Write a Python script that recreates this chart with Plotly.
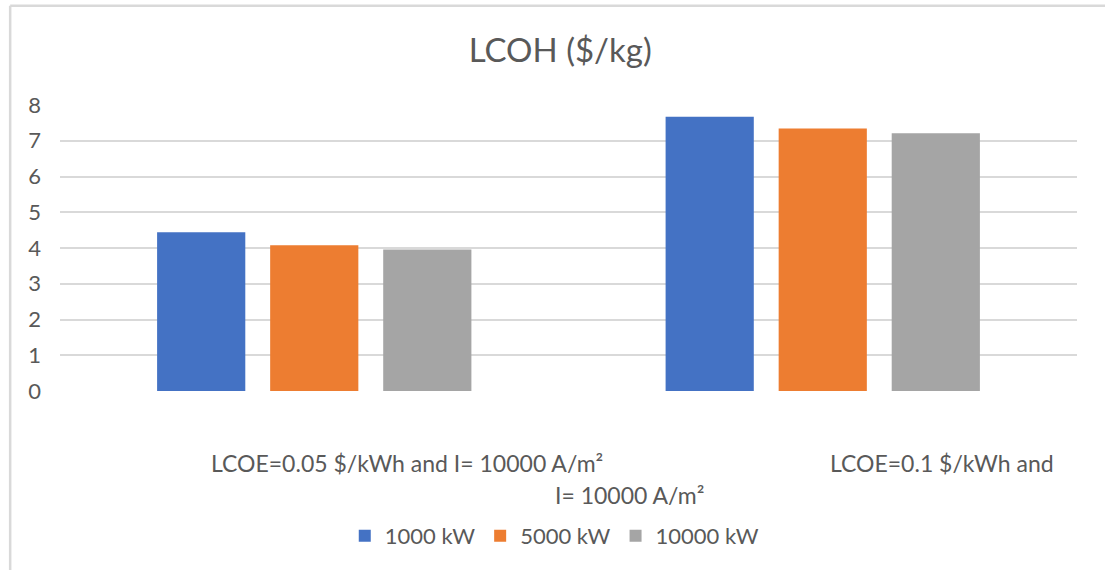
import plotly.graph_objects as go

# LCOH for each electricity-price scenario and electrolyser size
categories = ["LCOE=0.05 $/kWh and I= 10000 A/m²", "LCOE=0.1 $/kWh and I= 10000 A/m²"]
series_names = ["1000 kW", "5000 kW", "10000 kW"]
lcoh_1000 = [4.44, 7.67]
lcoh_5000 = [4.08, 7.34]
lcoh_10000 = [3.96, 7.21]
y_ticks = [0, 1, 2, 3, 4, 5, 6, 7, 8]

colors = ["#4472C4", "#ED7D31", "#A5A5A5"]
text_color = "#595959"
grid_color = "#D9D9D9"
font_family = "Lato, Carlito, Calibri, sans-serif"

fig = go.Figure()
for name, vals, col in zip(series_names, [lcoh_1000, lcoh_5000, lcoh_10000], colors):
    fig.add_trace(go.Bar(x=categories, y=vals, name=name, marker=dict(color=col, line=dict(width=0))))

# category labels, wrapped the way the axis shows them
label_specs = [
    (categories[0], 0.341, -0.250),
    (categories[1].split(" I=")[0], 0.867, -0.250),
    ("I=" + categories[1].split(" I=")[1], 0.560, -0.362),
]
annotations = [
    dict(text=t, x=x, y=y, xref="paper", yref="paper", showarrow=False,
         xanchor="center", yanchor="middle",
         font=dict(size=23, color=text_color, family=font_family))
    for t, x, y in label_specs
]

# outer chart frame (top and left edges visible)
shapes = [
    dict(type="line", xref="paper", yref="paper", x0=-0.049, x1=1.1, y0=1.347, y1=1.347,
         line=dict(color="#D9D9D9", width=2.5)),
    dict(type="line", xref="paper", yref="paper", x0=-0.049, x1=-0.049, y0=-0.7, y1=1.347,
         line=dict(color="#D9D9D9", width=2.5)),
]

fig.update_layout(
    width=1105, height=570,
    margin=dict(l=60, r=28, t=105, b=179),
    paper_bgcolor="white", plot_bgcolor="white",
    title=dict(text="LCOH ($/kg)", x=0.507, xanchor="center", y=0.912, yanchor="middle",
               font=dict(size=33, color=text_color, family=font_family)),
    font=dict(family=font_family, color=text_color),
    barmode="group", bargap=0.333, bargroupgap=0.22,
    showlegend=True,
    legend=dict(orientation="h", x=0.486, xanchor="center", y=-0.507, yanchor="middle",
                font=dict(size=22, color=text_color, family=font_family),
                traceorder="normal", itemwidth=30),
    annotations=annotations,
    shapes=shapes,
)
fig.update_xaxes(showticklabels=False, showgrid=False, showline=False, ticks="")
fig.update_yaxes(range=[0, 8], tickvals=y_ticks, showgrid=True, gridcolor=grid_color, gridwidth=1.5,
                 zeroline=False, showline=False, ticks="", ticklabelstandoff=18,
                 tickfont=dict(size=22, color=text_color, family=font_family))

fig.write_html("out.html")
